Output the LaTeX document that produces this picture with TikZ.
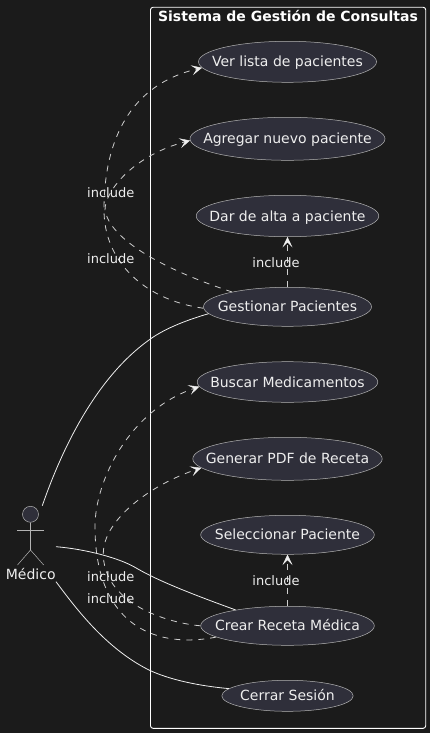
\documentclass[tikz,border=0pt]{standalone}
\usepackage{fontspec}
\setmainfont{DejaVu Sans}
\usetikzlibrary{shapes.geometric,arrows.meta}
\definecolor{bgc}{HTML}{1B1B1B}
\definecolor{ucfill}{HTML}{2F2F3A}
\definecolor{ucline}{HTML}{B4B4B4}
\definecolor{depc}{HTML}{D0D0D0}
\definecolor{txtc}{HTML}{EEEEEE}
\newcommand\uctext[1]{\raisebox{-0.36em}[0pt][0pt]{\makebox[0pt]{#1}}}
\tikzset{
  usecase/.style={ellipse,draw=ucline,fill=ucfill,line width=.5pt,inner sep=0pt,text=txtc,font=\fontsize{14}{16}\selectfont},
  lbl/.style={text=txtc,font=\fontsize{13}{15}\selectfont,inner sep=0pt,anchor=base},
  dep/.style={draw=depc,line width=.8pt,dash pattern=on 6pt off 6pt,-{Stealth[length=10.5pt,width=10pt,inset=5pt,line width=.4pt,color=txtc,fill=txtc]}},
  assoc/.style={draw=txtc,line width=.8pt},
  actorline/.style={draw=ucline,line width=.5pt}
}
\begin{document}
\begin{tikzpicture}[x=1pt,y=-1pt]
\useasboundingbox[fill=bgc] (0,0) rectangle (430,733);
\node[draw=white,line width=.9pt,rounded corners=2.5pt,minimum width=275.2pt,minimum height=721pt,inner sep=0pt] (sys) at (288.1,367.8) {};
\node[text=white,font=\fontsize{14}{16}\selectfont\bfseries,inner sep=0pt,anchor=base] (title) at (288,22) {Sistema de Gestión de Consultas};
% use cases
\node[usecase,minimum width=178pt,minimum height=41pt] (ver) at (287.5,61.8) {\uctext{Ver lista de pacientes}};
\node[usecase,minimum width=195pt,minimum height=43pt] (agr) at (287.5,138.8) {\uctext{Agregar nuevo paciente}};
\node[usecase,minimum width=182.6pt,minimum height=41.4pt] (dar) at (287.5,216) {\uctext{Dar de alta a paciente}};
\node[usecase,minimum width=168pt,minimum height=39pt] (ges) at (287.5,306.8) {\uctext{Gestionar Pacientes}};
\node[usecase,minimum width=180.6pt,minimum height=40.6pt] (bus) at (287.5,382) {\uctext{Buscar Medicamentos}};
\node[usecase,minimum width=189.4pt,minimum height=43pt] (gen) at (287.5,458.8) {\uctext{Generar PDF de Receta}};
\node[usecase,minimum width=173.6pt,minimum height=39pt] (sel) at (287.5,534.8) {\uctext{Seleccionar Paciente}};
\node[usecase,minimum width=173.6pt,minimum height=39pt] (cre) at (287.5,625.8) {\uctext{Crear Receta Médica}};
\node[usecase,minimum width=131.4pt,minimum height=31pt] (cer) at (287.5,695.8) {\uctext{Cerrar Sesión}};
% actor
\node[circle,draw=ucline,fill=ucfill,line width=.5pt,minimum size=16pt,inner sep=0pt] (head) at (30.5,514.3) {};
\coordinate (hip) at (30.5,550);
\coordinate (larm) at (17.3,530.3);
\coordinate (rarm) at (43.7,530.3);
\coordinate (lfoot) at (17.5,565);
\coordinate (rfoot) at (43.7,565);
\draw[actorline] (head.south) -- (hip);
\draw[actorline] (larm) -- (rarm);
\draw[actorline] (lfoot) -- (hip) -- (rfoot);
\node[text=txtc,font=\fontsize{14}{16}\selectfont,inner sep=0pt,anchor=base] (med) at (30.7,579) {Médico};
\coordinate (a1) at (42.3,505.7);
\coordinate (a2) at (56,546.7);
\coordinate (a3) at (56,581.7);
% solid associations
\draw[assoc] (a1) .. controls (65,440) and (100,375) .. (149,340) .. controls (165,328) and (190,319) .. (ges.185.5);
\draw[assoc] (a2) .. controls (85,549) and (120,558) .. (136.7,568.3) .. controls (160,582) and (200,597) .. (cre.163.7);
\draw[assoc] (a3) .. controls (75,607) and (105,648) .. (149,670) .. controls (170,680) and (200,686) .. (cer.173.7);
% includes
\draw[dep] (ges.north) -- (dar.south);
\draw[dep] (cre.north) -- (sel.south);
\draw[dep] (ges.181) .. controls (145,300) and (104,262) .. (104,210) .. controls (104,140) and (130,85) .. (ver.184);
\draw[dep] (ges.165.3) .. controls (165,270) and (110,240) .. (105,210) .. controls (105,190) and (135,155) .. (agr.181.7);
\draw[dep] (cre.189.5) .. controls (150,650) and (95,620) .. (95,526.7) .. controls (95,480) and (130,410) .. (bus.183.8);
\draw[dep] (cre.180) .. controls (160,622) and (103,600) .. (103.3,553.3) .. controls (103.5,520) and (150,485) .. (gen.186.3);
% labels
\node[lbl] (l1) at (110.7,197.5) {include};
\node[lbl] (l2) at (110.7,263.5) {include};
\node[lbl] (l3) at (276,267.5) {include};
\node[lbl] (l4) at (110.7,581) {include};
\node[lbl] (l5) at (110.7,603.3) {include};
\node[lbl] (l6) at (276,585) {include};
\end{tikzpicture}
\end{document}
